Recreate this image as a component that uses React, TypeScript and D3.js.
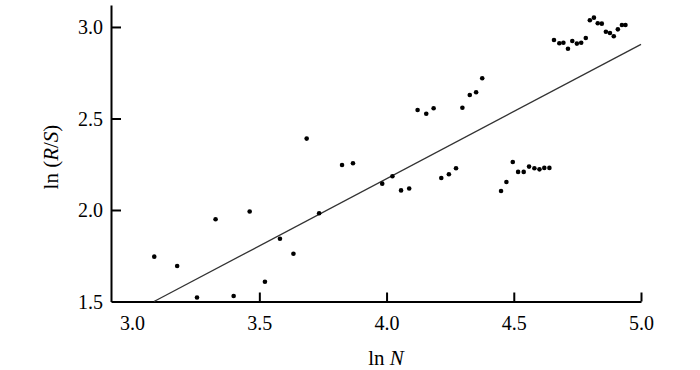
import React, { useEffect, useRef } from "react"
import * as d3 from "d3"

// ln N and ln(R/S)
const lnN = [
  3.087, 3.177, 3.255, 3.328, 3.399, 3.462, 3.522, 3.581, 3.634, 3.686,
  3.735, 3.825, 3.868, 3.983, 4.023, 4.057, 4.089, 4.122, 4.156, 4.185,
  4.215, 4.245, 4.273, 4.298, 4.327, 4.352, 4.376, 4.45, 4.471, 4.496,
  4.517, 4.539, 4.56, 4.581, 4.601, 4.62, 4.64, 4.658, 4.679, 4.695,
  4.713, 4.73, 4.748, 4.765, 4.783, 4.799, 4.815, 4.83, 4.846, 4.862,
  4.878, 4.893, 4.909, 4.925, 4.939,
]
const lnRS = [
  1.745, 1.694, 1.522, 1.949, 1.53, 1.992, 1.608, 1.843, 1.761, 2.39,
  1.982, 2.246, 2.255, 2.144, 2.184, 2.107, 2.117, 2.546, 2.526, 2.556,
  2.175, 2.195, 2.228, 2.559, 2.628, 2.643, 2.72, 2.104, 2.153, 2.262,
  2.208, 2.208, 2.237, 2.228, 2.222, 2.23, 2.23, 2.929, 2.911, 2.914,
  2.881, 2.923, 2.909, 2.914, 2.94, 3.037, 3.051, 3.02, 3.018, 2.974,
  2.967, 2.949, 2.987, 3.011, 3.011,
]
// fitted line end points
const fitX = [3.086, 5.0]
const fitY = [1.5, 2.905]

const xTicks = [3.0, 3.5, 4.0, 4.5, 5.0]
const yTicks = [1.5, 2.0, 2.5, 3.0]

export default function App() {
  const ref = useRef<SVGSVGElement>(null)

  useEffect(() => {
    const svg = d3.select(ref.current)
    svg.selectAll("*").remove()

    const x = d3.scaleLinear().domain([2.917, 5.0]).range([111, 641])
    const y = d3.scaleLinear().domain([1.5, 3.12]).range([301.5, 5])
    const font = "'Liberation Serif', 'Times New Roman', serif"

    const xAxis = svg.append("g")
      .attr("transform", "translate(0,301.5)")
      .call(d3.axisBottom(x).tickValues(xTicks).tickFormat(d3.format(".1f")).tickSize(-9).tickPadding(14).tickSizeOuter(0))
    const yAxis = svg.append("g")
      .attr("transform", "translate(111,0)")
      .call(d3.axisLeft(y).tickValues(yTicks).tickFormat(d3.format(".1f")).tickSize(-10).tickPadding(8).tickSizeOuter(0))

    for (const g of [xAxis, yAxis]) {
      g.select(".domain").attr("stroke", "#000").attr("stroke-width", 2)
      g.selectAll(".tick line").attr("stroke", "#000").attr("stroke-width", 2)
      g.selectAll(".tick text").attr("fill", "#000")
        .style("font-family", font).style("font-size", "20px")
    }
    // no tick mark at the 3.0 corner, nor at 1.5
    xAxis.selectAll(".tick").filter((d: any) => d === 3.0).select("line").remove()
    yAxis.selectAll(".tick").filter((d: any) => d === 1.5).select("line").remove()
    xAxis.selectAll(".tick text").attr("dy", "0.71em")
    yAxis.selectAll(".tick text").attr("dy", "0.35em")

    svg.append("line")
      .attr("x1", x(fitX[0])).attr("y1", y(fitY[0]))
      .attr("x2", x(fitX[1])).attr("y2", y(fitY[1]))
      .attr("stroke", "#333").attr("stroke-width", 1.3)

    svg.append("g").selectAll("circle")
      .data(lnN.map((v, i) => [v, lnRS[i]]))
      .enter().append("circle")
      .attr("cx", d => x(d[0]))
      .attr("cy", d => y(d[1]))
      .attr("r", 2.3)
      .attr("fill", "#000")

    const xt = svg.append("text")
      .attr("x", 386).attr("y", 365)
      .attr("text-anchor", "middle")
      .style("font-family", font).style("font-size", "21px")
    xt.append("tspan").text("ln ")
    xt.append("tspan").attr("font-style", "italic").text("N")

    const yt = svg.append("text")
      .attr("transform", "translate(58,157) rotate(-90)")
      .attr("text-anchor", "middle")
      .style("font-family", font).style("font-size", "21px")
    yt.append("tspan").text("ln (")
    yt.append("tspan").attr("font-style", "italic").text("R")
    yt.append("tspan").text("/")
    yt.append("tspan").attr("font-style", "italic").text("S")
    yt.append("tspan").text(")")
  }, [])

  return (
    <svg ref={ref} width={700} height={370}
      style={{ position: "absolute", left: 0, top: 0, background: "#fff" }} />
  )
}
